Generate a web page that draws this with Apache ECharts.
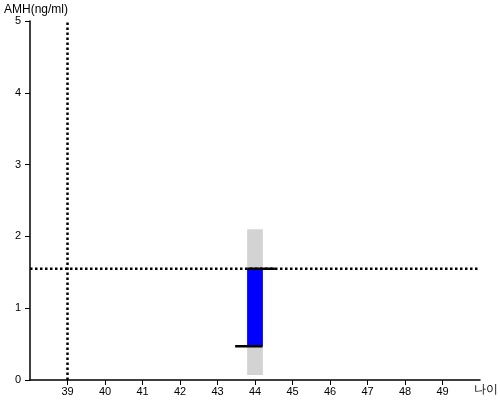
<!DOCTYPE html>
<html><head><meta charset="utf-8">
<script src="https://cdn.jsdelivr.net/npm/echarts@6/dist/echarts.min.js"></script>
<style>html,body{margin:0;padding:0;background:#fff}#c{width:500px;height:400px}</style>
</head><body><div id="c"></div>
<script>
const ageTicks = [39,40,41,42,43,44,45,46,47,48,49];
const amhTicks = [0,1,2,3,4,5];
const barAge = [44];
const grayRange = [[0.07, 2.10]];
const blueRange = [[0.47, 1.55]];
const lowerMark = [[43.47, 0.47],[44.2, 0.47]];
const upperMark = [[43.8, 1.55],[44.53, 1.55]];
const refAge = 39;
const refAmh = 1.55;

const chart = echarts.init(document.getElementById('c'));
const font = 'Liberation Sans, Arial, sans-serif';
function rangeSeries(ranges, color) {
  return {
    type: 'custom',
    data: barAge.map((a, i) => [a, ranges[i][0], ranges[i][1]]),
    renderItem: function (params, api) {
      const p1 = api.coord([api.value(0) - 0.21, api.value(2)]);
      const p2 = api.coord([api.value(0) + 0.21, api.value(1)]);
      return { type: 'rect', shape: { x: p1[0], y: p1[1], width: p2[0] - p1[0], height: p2[1] - p1[1] }, style: { fill: color } };
    },
    silent: true, z: 2
  };
}
chart.setOption({
  animation: false,
  grid: { left: 30, right: 20, top: 21, bottom: 20, containLabel: false, outerBoundsMode: 'none' },
  xAxis: {
    type: 'value', min: 38, max: 50, interval: 1,
    axisLine: { lineStyle: { color: '#000', width: 1.5 } },
    axisTick: { show: true, customValues: ageTicks, length: 5, lineStyle: { color: '#000', width: 1 } },
    axisLabel: { customValues: ageTicks, color: '#000', fontSize: 11, fontFamily: font, margin: 6 },
    splitLine: { show: false },
    name: '나이', nameLocation: 'end', nameGap: 0,
    nameTextStyle: { color: '#000', fontSize: 12, fontFamily: font, verticalAlign: 'top', align: 'left', padding: [4, 0, 0, -6] }
  },
  yAxis: {
    type: 'value', min: 0, max: 5, interval: 1,
    axisLine: { show: true, lineStyle: { color: '#000', width: 1.5 } },
    axisTick: { show: true, length: 5, lineStyle: { color: '#000', width: 1 } },
    axisLabel: { color: '#000', fontSize: 11, fontFamily: font, margin: 9 },
    splitLine: { show: false },
    name: 'AMH(ng/ml)', nameLocation: 'end', nameGap: 4,
    nameTextStyle: { color: '#000', fontSize: 12, fontFamily: font, align: 'left', padding: [0, 0, 0, -26] }
  },
  series: [
    rangeSeries(grayRange, '#d3d3d3'),
    rangeSeries(blueRange, '#0000ff'),
    { type: 'line', data: [[refAge, 0], [refAge, 5]], symbol: 'none', lineStyle: { color: '#000', width: 2.5, type: [2.5, 2.5] }, z: 3, silent: true },
    { type: 'line', data: [[38, refAmh], [50, refAmh]], symbol: 'none', lineStyle: { color: '#000', width: 2.5, type: [2.5, 2.5] }, z: 3, silent: true },
    { type: 'line', data: lowerMark, symbol: 'none', lineStyle: { color: '#000', width: 2.5 }, z: 4, silent: true },
    { type: 'line', data: upperMark, symbol: 'none', lineStyle: { color: '#000', width: 2.5 }, z: 4, silent: true }
  ]
});
</script></body></html>
